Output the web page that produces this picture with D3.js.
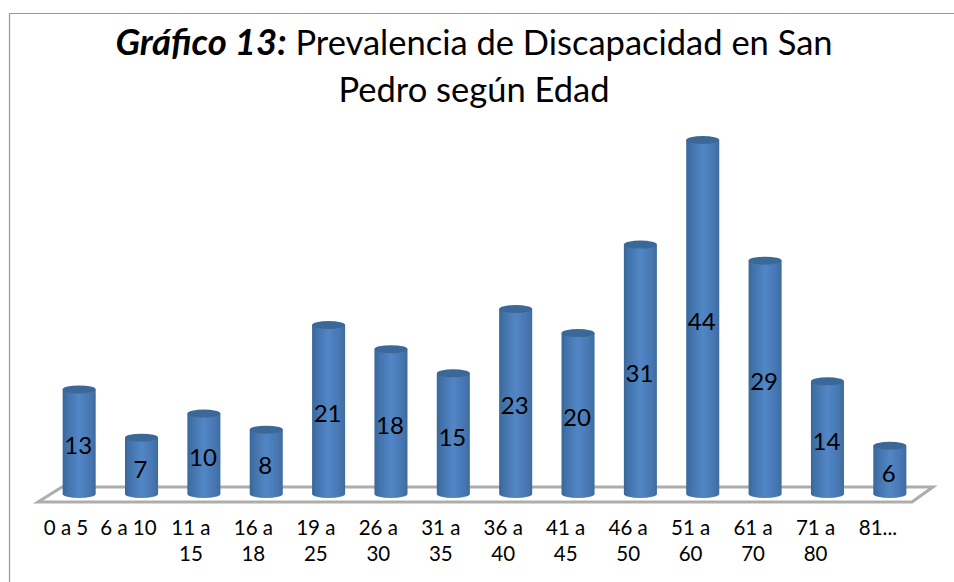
<!DOCTYPE html>
<html>
<head>
<meta charset="utf-8">
<script src="https://cdn.jsdelivr.net/npm/d3@7"></script>
<style>
html, body { margin: 0; padding: 0; background: #fff; }
svg { display: block; }
text { font-family: Lato, sans-serif; fill: #000; }
</style>
</head>
<body>
<script>
const categories = ["0 a 5", "6 a 10", "11 a 15", "16 a 18", "19 a 25", "26 a 30", "31 a 35",
    "36 a 40", "41 a 45", "46 a 50", "51 a 60", "61 a 70", "71 a 80", "81..."];
const values = [13, 7, 10, 8, 21, 18, 15, 23, 20, 31, 44, 29, 14, 6];

const width = 954, height = 582;
const plot = {left: 48, right: 921, base: 494, top: 140};

const svg = d3.select("body").append("svg")
    .attr("width", width)
    .attr("height", height);

const defs = svg.append("defs");

// left to right shading of the cylinders
const grad = defs.append("linearGradient").attr("id", "cyl");
grad.append("stop").attr("offset", "0%").attr("stop-color", "#3a6698");
grad.append("stop").attr("offset", "14%").attr("stop-color", "#4272ab");
grad.append("stop").attr("offset", "50%").attr("stop-color", "#5286c6");
grad.append("stop").attr("offset", "80%").attr("stop-color", "#4878b4");
grad.append("stop").attr("offset", "100%").attr("stop-color", "#3f6c9f");

// the reference is a soft raster, so the bars get a small blur
defs.append("filter").attr("id", "soft")
    .append("feGaussianBlur").attr("stdDeviation", 0.6);

// chart frame
svg.append("path")
    .attr("d", "M9.5,582V13.5H954")
    .attr("fill", "none")
    .attr("stroke", "#9a9a9a")
    .attr("stroke-width", 1.2);

const x = d3.scaleBand().domain(categories).range([plot.left, plot.right]).paddingInner(0.47).paddingOuter(0.235);
const xLabel = d3.scalePoint().domain(categories).range([66, 878]);
const y = d3.scaleLinear().domain([0, 44]).range([plot.base, plot.top]);

// floor of the 3d chart
svg.append("path")
    .attr("d", "M38,502L62,487H933L912,502Z")
    .attr("fill", "#fff")
    .attr("stroke", "#adadad")
    .attr("stroke-width", 3);

const ry = 4;
const bars = svg.append("g").selectAll("g")
    .data(categories)
    .join("g")
    .attr("transform", d => "translate(" + x(d) + ",0)");

bars.append("path")
    .attr("fill", "url(#cyl)")
    .attr("filter", "url(#soft)")
    .attr("d", (d, i) => {
        const w = x.bandwidth();
        return "M0," + y(values[i]) + "V" + plot.base +
            "A" + w / 2 + "," + ry + " 0 0 0 " + w + "," + plot.base +
            "V" + y(values[i]) + "Z";
    });

bars.append("ellipse")
    .attr("cx", x.bandwidth() / 2)
    .attr("cy", (d, i) => y(values[i]))
    .attr("rx", x.bandwidth() / 2)
    .attr("ry", ry)
    .attr("fill", "#3b6896")
    .attr("filter", "url(#soft)");

// value labels
bars.append("text")
    .attr("x", x.bandwidth() / 2 - 1)
    .attr("y", (d, i) => (y(values[i]) + plot.base) / 2 + 12.5)
    .attr("text-anchor", "middle")
    .style("font-size", "24px")
    .text((d, i) => values[i]);

// category labels, wrapped after the "a" when they do not fit
const labels = svg.append("g").selectAll("text")
    .data(categories)
    .join("text")
    .attr("x", d => xLabel(d))
    .attr("y", 535)
    .attr("text-anchor", "middle")
    .style("font-size", "20.5px");

labels.each(function (d) {
    const m = d.match(/^(\d\d a) (\d\d)$/);
    const parts = m ? [m[1], m[2]] : [d];
    d3.select(this).selectAll("tspan")
        .data(parts)
        .join("tspan")
        .attr("x", d3.select(this).attr("x"))
        .attr("dy", (p, i) => i ? 26 : 0)
        .text(p => p);
});

// title
const title = svg.append("g").attr("text-anchor", "middle").style("font-size", "34.5px");
const line1 = title.append("text").attr("x", 474).attr("y", 55);
line1.append("tspan").style("font-weight", "bold").style("font-style", "italic").style("font-size", "36.5px").text("Gráfico 13:");
line1.append("tspan").text(" Prevalencia de Discapacidad en San");
title.append("text").attr("x", 474).attr("y", 102).text("Pedro según Edad");
</script>
</body>
</html>
